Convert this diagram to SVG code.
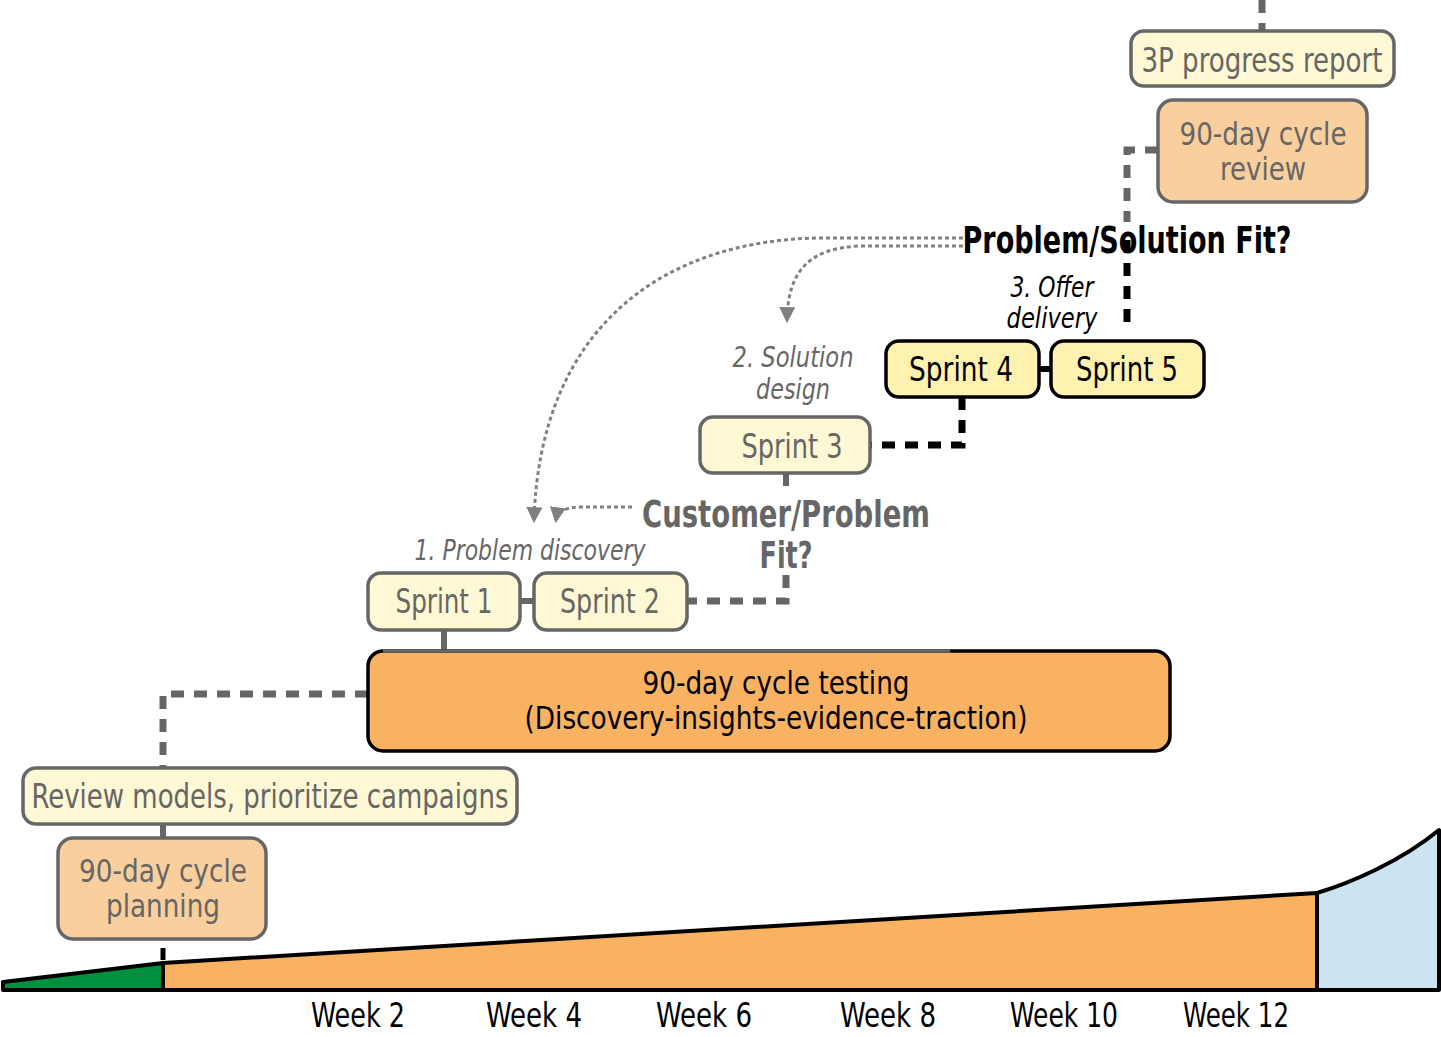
<svg xmlns="http://www.w3.org/2000/svg" width="1441" height="1037" viewBox="0 0 1441 1037">
<defs>
<style>
text{font-family:"Liberation Sans Narrow","DejaVu Sans Condensed","Liberation Sans",sans-serif;text-anchor:middle;}
.g{fill:#666666;}
.k{fill:#000000;}
.it{font-style:italic;}
.b{font-weight:bold;}
.s34{font-size:34px;}
.s32{font-size:32px;}
.s29{font-size:29px;}
.s38{font-size:38px;}
.pale{fill:#fff8d4;stroke:#666666;stroke-width:3.5;}
.peach{fill:#f9d09d;stroke:#666666;stroke-width:3.5;}
.yel{fill:#fff2b0;stroke:#000000;stroke-width:3.5;}
.orange{fill:#f8b261;stroke:#000000;stroke-width:3.5;}
.dg{fill:none;stroke:#666666;stroke-width:7;stroke-dasharray:13 10;}
.dk{fill:none;stroke:#000000;stroke-width:7;stroke-dasharray:13 10;}
.sg{fill:none;stroke:#666666;stroke-width:6;}
.sk{fill:none;stroke:#000000;stroke-width:6;}
.dot{fill:none;stroke:#808080;stroke-width:3;stroke-dasharray:4 3;}
</style>
<marker id="arr" viewBox="0 0 10 10" refX="8" refY="5" markerWidth="16" markerHeight="16" markerUnits="userSpaceOnUse" orient="auto">
<path d="M0,0 L10,5 L0,10 Z" fill="#808080"/>
</marker>
</defs>

<g id="chart">
<path d="M3,982 L163,963 L163,990 L3,990 Z" fill="#00903f" stroke="#000" stroke-width="4" stroke-linejoin="round"/>
<path d="M163,963 L1317,893 L1317,990 L163,990 Z" fill="#f8b261" stroke="#000" stroke-width="4" stroke-linejoin="round"/>
<path d="M1317,893 C1350,883 1400,862 1439,830 L1439,990 L1317,990 Z" fill="#cce3f1" stroke="#000" stroke-width="4" stroke-linejoin="round"/>
<line x1="163" y1="948" x2="163" y2="960" stroke="#000" stroke-width="5"/>
</g>

<g id="week-labels" class="k s34">
<text x="358" y="1027" textLength="94" lengthAdjust="spacingAndGlyphs">Week 2</text>
<text x="534" y="1027" textLength="96" lengthAdjust="spacingAndGlyphs">Week 4</text>
<text x="704" y="1027" textLength="96" lengthAdjust="spacingAndGlyphs">Week 6</text>
<text x="888" y="1027" textLength="96" lengthAdjust="spacingAndGlyphs">Week 8</text>
<text x="1064" y="1027" textLength="108" lengthAdjust="spacingAndGlyphs">Week 10</text>
<text x="1236" y="1027" textLength="106" lengthAdjust="spacingAndGlyphs">Week 12</text>
</g>

<g id="connectors">
<line x1="1262" y1="0" x2="1262" y2="31" class="dg" stroke-dasharray="10 10"/>
<path d="M1158,150 H1127 V222" class="dg"/>
<path d="M1127,240 V330" class="dk"/>
<line x1="1039" y1="369" x2="1051" y2="369" class="sk"/>
<path d="M962,397 V445 H871" class="dk"/>
<line x1="786" y1="473" x2="786" y2="486" class="sg"/>
<path d="M786,575 V601 H688" class="dg"/>
<line x1="520" y1="601" x2="534" y2="601" class="sg"/>
<line x1="444" y1="630" x2="444" y2="651" class="sg"/>
<path d="M368,694 H163 V768" class="dg"/>
<line x1="163" y1="824" x2="163" y2="838" class="sg"/>
<path d="M963,238 H820 C660,240 540,330 534,520" class="dot" marker-end="url(#arr)"/>
<path d="M963,246 H860 C810,248 788,270 787,320" class="dot" marker-end="url(#arr)"/>
<path d="M632,507 H580 C565,507 557,513 556,520" class="dot" marker-end="url(#arr)"/>
</g>

<g id="progress-report">
<rect x="1131" y="31" width="263" height="55" rx="13" class="pale"/>
<text x="1262" y="72" class="g s34" textLength="241" lengthAdjust="spacingAndGlyphs">3P progress report</text>
</g>

<g id="cycle-review">
<rect x="1158" y="100" width="209" height="102" rx="15" class="peach"/>
<text x="1263" y="145" class="g s32" textLength="167" lengthAdjust="spacingAndGlyphs">90-day cycle</text>
<text x="1263" y="180" class="g s32" textLength="86" lengthAdjust="spacingAndGlyphs">review</text>
</g>

<g id="ps-fit">
<text x="1127" y="253" class="k s38 b" textLength="329" lengthAdjust="spacingAndGlyphs">Problem/Solution Fit?</text>
</g>

<g id="offer-delivery">
<text x="1052" y="297" class="k s29 it" textLength="83" lengthAdjust="spacingAndGlyphs">3. Offer</text>
<text x="1052" y="328" class="k s29 it" textLength="91" lengthAdjust="spacingAndGlyphs">delivery</text>
</g>

<g id="sprint4">
<rect x="886" y="341" width="153" height="56" rx="13" class="yel"/>
<text x="961" y="381" class="k s34" textLength="104" lengthAdjust="spacingAndGlyphs">Sprint 4</text>
</g>

<g id="sprint5">
<rect x="1051" y="341" width="153" height="56" rx="13" class="yel"/>
<text x="1127" y="381" class="k s34" textLength="102" lengthAdjust="spacingAndGlyphs">Sprint 5</text>
</g>

<g id="solution-design">
<text x="793" y="367" class="g s29 it" textLength="121" lengthAdjust="spacingAndGlyphs">2. Solution</text>
<text x="793" y="399" class="g s29 it" textLength="74" lengthAdjust="spacingAndGlyphs">design</text>
</g>

<g id="sprint3">
<rect x="700" y="417" width="170" height="56" rx="13" class="pale"/>
<text x="792" y="458" class="g s34" textLength="101" lengthAdjust="spacingAndGlyphs">Sprint 3</text>
</g>

<g id="cp-fit">
<text x="786" y="527" class="g s38 b" textLength="288" lengthAdjust="spacingAndGlyphs">Customer/Problem</text>
<text x="786" y="568" class="g s38 b" textLength="53" lengthAdjust="spacingAndGlyphs">Fit?</text>
</g>

<g id="problem-discovery">
<text x="530" y="560" class="g s29 it" textLength="231" lengthAdjust="spacingAndGlyphs">1. Problem discovery</text>
</g>

<g id="sprint1">
<rect x="368" y="573" width="152" height="57" rx="13" class="pale"/>
<text x="444" y="613" class="g s34" textLength="97" lengthAdjust="spacingAndGlyphs">Sprint 1</text>
</g>

<g id="sprint2">
<rect x="534" y="573" width="153" height="57" rx="13" class="pale"/>
<text x="610" y="613" class="g s34" textLength="100" lengthAdjust="spacingAndGlyphs">Sprint 2</text>
</g>

<g id="cycle-testing">
<rect x="368" y="651" width="802" height="100" rx="15" class="orange"/>
<line x1="383" y1="651" x2="950" y2="651" stroke="#666666" stroke-width="3.5"/>
<text x="776" y="694" class="k s32" textLength="267" lengthAdjust="spacingAndGlyphs">90-day cycle testing</text>
<text x="776" y="729" class="k s32" textLength="503" lengthAdjust="spacingAndGlyphs">(Discovery-insights-evidence-traction)</text>
</g>

<g id="review-models">
<rect x="23" y="768" width="494" height="56" rx="13" class="pale"/>
<text x="270" y="808" class="g s34" textLength="477" lengthAdjust="spacingAndGlyphs">Review models, prioritize campaigns</text>
</g>

<g id="cycle-planning">
<rect x="58" y="838" width="208" height="101" rx="15" class="peach"/>
<text x="163" y="882" class="g s32" textLength="168" lengthAdjust="spacingAndGlyphs">90-day cycle</text>
<text x="163" y="917" class="g s32" textLength="114" lengthAdjust="spacingAndGlyphs">planning</text>
</g>
</svg>
